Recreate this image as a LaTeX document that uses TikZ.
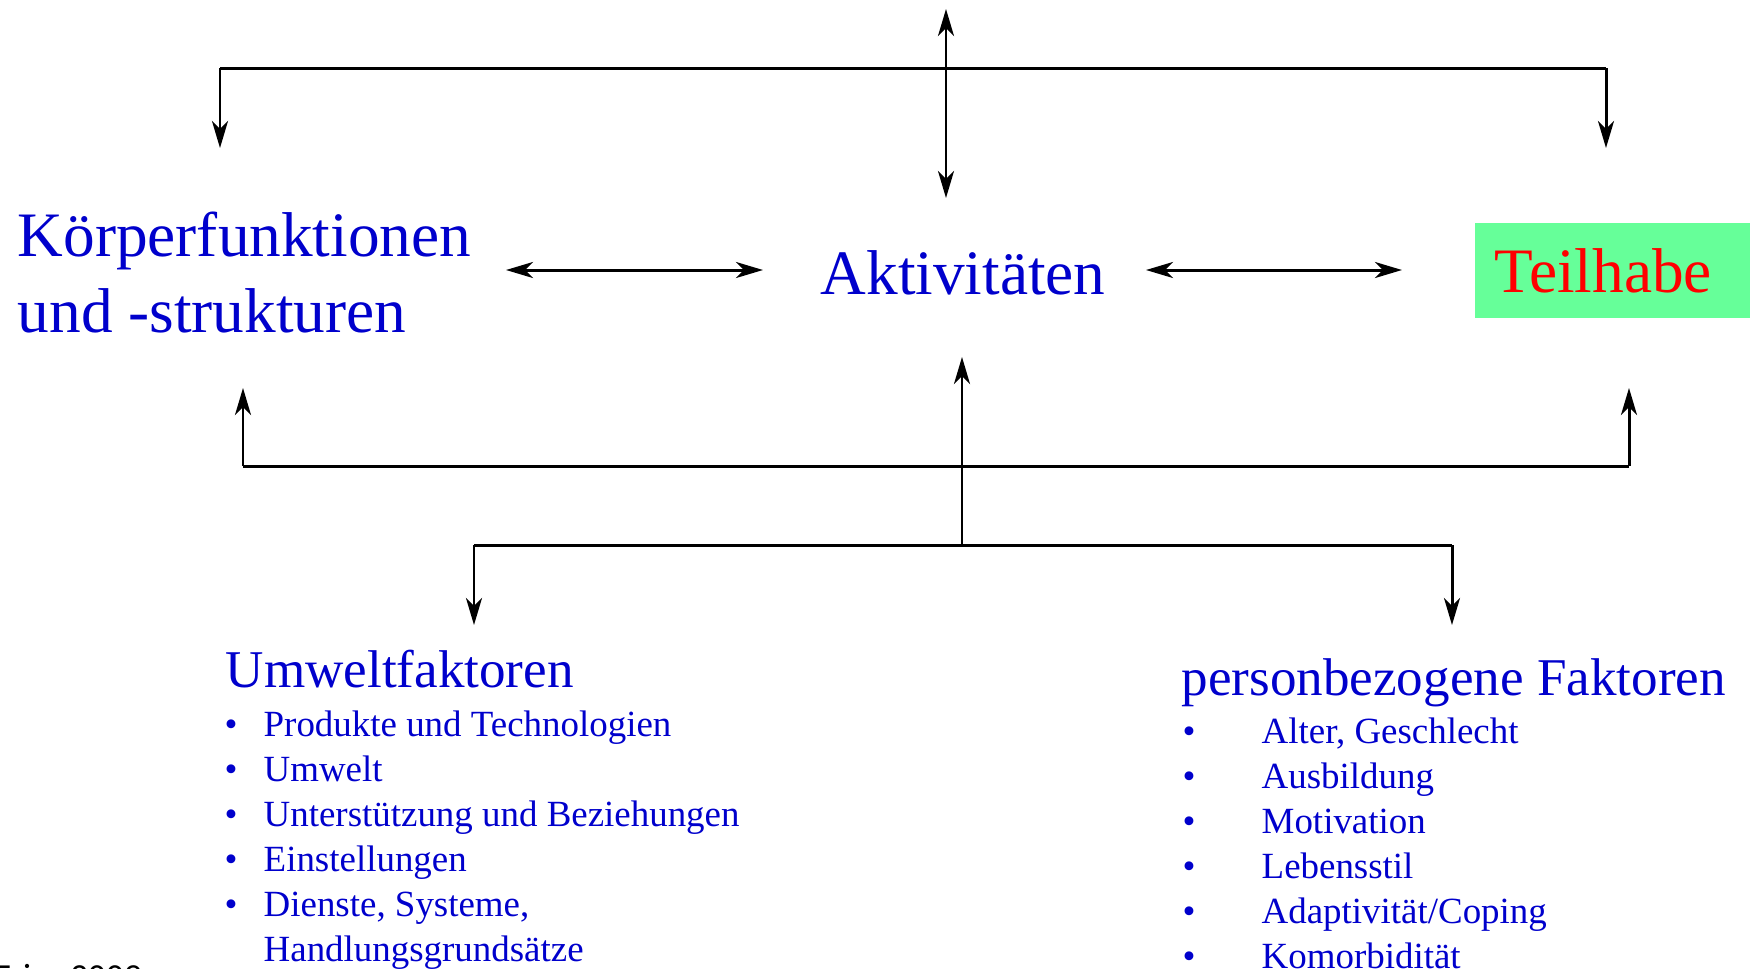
\documentclass[tikz,border=0pt]{standalone}
\usepackage{fontspec}
\setmainfont{Liberation Serif}
\newfontfamily\notefont{Carlito}
\usetikzlibrary{arrows.meta}
\definecolor{icfblue}{RGB}{0,0,204}
\definecolor{icfgreen}{RGB}{102,255,153}

\begin{document}
\begin{tikzpicture}[x=0.01cm, y=-0.01cm,
    link/.style={line width=0.85pt},
    arr/.style={link, -{Stealth[length=0.27cm, width=0.16cm, inset=0.08cm]}},
    darr/.style={link, {Stealth[length=0.27cm, width=0.16cm, inset=0.08cm]}-{Stealth[length=0.27cm, width=0.16cm, inset=0.08cm]}},
    big/.style={font=\fontsize{18}{21.6}\selectfont, text=icfblue, inner sep=0pt, anchor=base west},
    head/.style={font=\fontsize{15.1}{18}\selectfont, text=icfblue, inner sep=0pt, anchor=base west},
    item/.style={font=\fontsize{10.5}{12.6}\selectfont, text=icfblue, inner sep=0pt, anchor=base west}]
  \useasboundingbox (0,0) rectangle (1750,969);
  \clip (0,0) rectangle (1750,969);

  % main boxes
  \node[big] (koerper) at (17,256) {Körperfunktionen};
  \node[big] (strukturen) at (17,332) {und -strukturen};
  \node[big] (aktiv) at (820,294) {Aktivitäten};
  \node[font=\fontsize{18}{21.6}\selectfont, text=red, fill=icfgreen, inner xsep=0.2cm, inner ysep=0pt,
        text width=2.35cm, minimum height=0.95cm, align=left] (teilhabe) at (1612.5,270.5) {Teilhabe};

  % upper bracket
  \coordinate (topend) at (946,9);
  \coordinate (topfoot) at (946,198);
  \coordinate (tl) at (220,68);
  \coordinate (tr) at (1606,68);
  \coordinate (tlend) at (220,148);
  \coordinate (trend) at (1606,148);
  \draw[darr] (topend) -- (topfoot);
  \draw[link] (tl) -- (tr);
  \draw[arr] (tl) -- (tlend);
  \draw[arr] (tr) -- (trend);

  % between the boxes
  \coordinate (h1a) at (506,270);
  \coordinate (h1b) at (763,270);
  \coordinate (h2a) at (1146,270);
  \coordinate (h2b) at (1402,270);
  \draw[darr] (h1a) -- (h1b);
  \draw[darr] (h2a) -- (h2b);

  % lower bracket
  \coordinate (bl) at (243,466);
  \coordinate (br) at (1629,466);
  \coordinate (blend) at (243,388);
  \coordinate (brend) at (1629,388);
  \coordinate (mc) at (962,545);
  \coordinate (mcend) at (962,357);
  \coordinate (ml) at (474,545);
  \coordinate (mr) at (1452,545);
  \coordinate (mlend) at (474,625);
  \coordinate (mrend) at (1452,625);
  \draw[link] (bl) -- (br);
  \draw[arr] (bl) -- (blend);
  \draw[arr] (br) -- (brend);
  \draw[arr] (mc) -- (mcend);
  \draw[link] (ml) -- (mr);
  \draw[arr] (ml) -- (mlend);
  \draw[arr] (mr) -- (mrend);

  % context factors
  \node[head] (umwelt) at (225,687) {Umweltfaktoren};
  \foreach \t [count=\i] in {Produkte und Technologien, Umwelt, Unterstützung und Beziehungen, Einstellungen, {Dienste, Systeme,}} {
    \node[item] (uwb\i) at (224,736+45*\i-45) {\textbullet};
    \node[item] (uw\i) at (263,736+45*\i-45) {\t};
  }
  \node[item] (uw6) at (263,961) {Handlungsgrundsätze};

  \node[head] (person) at (1181,695) {personbezogene Faktoren};
  \foreach \t [count=\i] in {{Alter, Geschlecht}, Ausbildung, Motivation, Lebensstil, Adaptivität/Coping, Komorbidität} {
    \node[item] (pfb\i) at (1182,743+45*\i-45) {\textbullet};
    \node[item] (pf\i) at (1261,743+45*\i-45) {\t};
  }

  \node[font=\notefont\fontsize{10}{12}\selectfont, inner sep=0pt, anchor=base west] (quelle) at (-6,988) {Fries 2009};
\end{tikzpicture}
\end{document}
